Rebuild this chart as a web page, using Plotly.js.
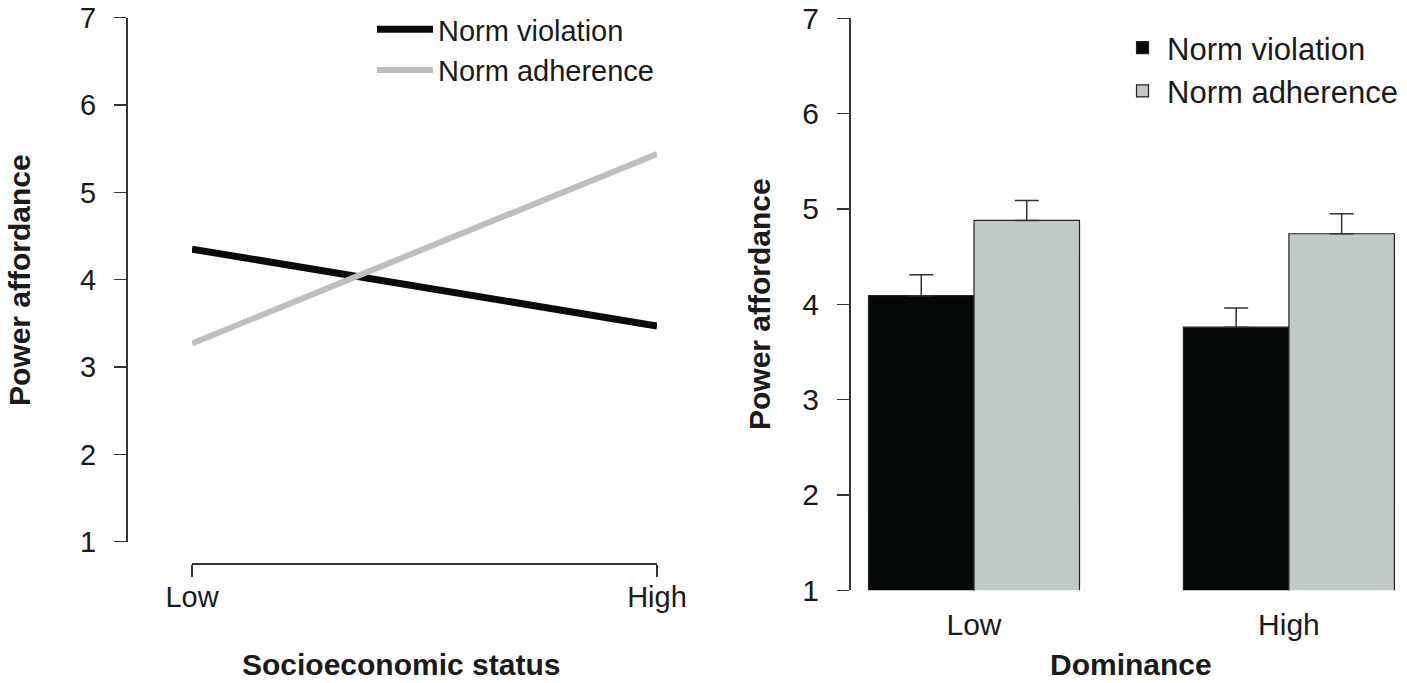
<!DOCTYPE html>
<html>
<head>
<meta charset="utf-8">
<script src="https://cdn.plot.ly/plotly-3.0.1.min.js"></script>
<style>
  html, body { margin: 0; padding: 0; background: #ffffff; }
  #chart { width: 1407px; height: 683px; }
</style>
</head>
<body>
<div id="chart"></div>
<script>
// Left panel: simple slopes by socioeconomic status
const sesLevels = ['Low', 'High']
const sesViolation = [4.35, 3.47]
const sesAdherence = [3.27, 5.44]

// Right panel: means (+ SE) by dominance
const domLevels = ['Low', 'High']
const domViolation = [4.09, 3.76]
const domAdherence = [4.88, 4.74]
const domViolationSE = [0.22, 0.20]
const domAdherenceSE = [0.21, 0.21]

const yTicks = [1, 2, 3, 4, 5, 6, 7]
const seriesNames = ['Norm violation', 'Norm adherence']

const W = 1407
const H = 683
const px = v => v / W          // pixel -> paper x
const py = v => 1 - v / H      // pixel -> paper y

const FONT = 'Liberation Sans, Arial, sans-serif'
const INK = '#1a1a1a'

const traces = [
  {
    x: sesLevels, y: sesViolation, name: seriesNames[0],
    type: 'scatter', mode: 'lines',
    line: { color: '#0a0a0a', width: 7 },
    xaxis: 'x', yaxis: 'y', legend: 'legend'
  },
  {
    x: sesLevels, y: sesAdherence, name: seriesNames[1],
    type: 'scatter', mode: 'lines',
    line: { color: '#bdbfbf', width: 6 },
    xaxis: 'x', yaxis: 'y', legend: 'legend'
  },
  {
    x: domLevels, y: domViolation, name: seriesNames[0],
    type: 'bar',
    marker: { color: '#050809', line: { color: '#222222', width: 1.2 } },
    error_y: { type: 'data', array: domViolationSE, arrayminus: [0, 0], symmetric: false,
               color: '#333333', thickness: 1.5, width: 12 },
    xaxis: 'x2', yaxis: 'y2', legend: 'legend2'
  },
  {
    x: domLevels, y: domAdherence, name: seriesNames[1],
    type: 'bar',
    marker: { color: '#c1c9c7', line: { color: '#222222', width: 1.2 } },
    error_y: { type: 'data', array: domAdherenceSE, arrayminus: [0, 0], symmetric: false,
               color: '#333333', thickness: 1.5, width: 12 },
    xaxis: 'x2', yaxis: 'y2', legend: 'legend2'
  }
]

const yAxisBase = {
  range: [1, 7],
  tickvals: yTicks,
  ticks: 'outside',
  ticklen: 12,
  tickwidth: 1.5,
  tickcolor: '#333333',
  showline: true,
  linecolor: '#333333',
  linewidth: 1.5,
  showgrid: false,
  zeroline: false,
  fixedrange: true
}

const layout = {
  width: W,
  height: H,
  margin: { l: 0, r: 0, t: 0, b: 0 },
  paper_bgcolor: '#ffffff',
  plot_bgcolor: 'rgba(0,0,0,0)',
  font: { family: FONT, color: INK, size: 29 },
  showlegend: true,
  barmode: 'group',
  bargap: 0.33,
  bargroupgap: 0,

  xaxis: {
    domain: [px(192), px(657)],
    type: 'category',
    range: [0, 1],
    anchor: 'free',
    position: py(563),
    ticks: 'outside',
    ticklen: 12,
    tickwidth: 1.5,
    tickcolor: '#333333',
    showline: true,
    linecolor: '#333333',
    linewidth: 1.5,
    showgrid: false,
    zeroline: false,
    tickfont: { size: 29 },
    ticklabelstandoff: -4
  },
  yaxis: Object.assign({}, yAxisBase, {
    domain: [py(541.7), py(17.7)],
    anchor: 'free',
    position: px(126),
    tickfont: { size: 29 },
    ticklabelstandoff: 12
  }),

  xaxis2: {
    domain: [px(849), 1],
    type: 'category',
    range: [-0.397, 1.375],
    anchor: 'y2',
    ticks: '',
    showline: false,
    showgrid: false,
    zeroline: false,
    tickfont: { size: 30 },
    ticklabelstandoff: 14
  },
  yaxis2: Object.assign({}, yAxisBase, {
    domain: [py(590.3), py(18.3)],
    anchor: 'free',
    position: px(849),
    tickfont: { size: 30 },
    ticklabelstandoff: 12
  }),

  legend: {
    x: px(372), xanchor: 'left',
    y: py(4), yanchor: 'top',
    bgcolor: 'rgba(0,0,0,0)',
    font: { size: 29, family: FONT, color: INK },
    itemwidth: 56,
    tracegroupgap: 0
  },
  legend2: {
    x: px(1118), xanchor: 'left',
    y: py(21), yanchor: 'top',
    bgcolor: 'rgba(0,0,0,0)',
    font: { size: 31, family: FONT, color: INK },
    itemwidth: 39,
    tracegroupgap: 0
  },

  annotations: [
    {
      text: '<b>Power affordance</b>', xref: 'paper', yref: 'paper',
      x: px(19), y: py(280), xanchor: 'center', yanchor: 'middle',
      textangle: -90, showarrow: false, font: { size: 30, family: FONT, color: INK }
    },
    {
      text: '<b>Socioeconomic status</b>', xref: 'paper', yref: 'paper',
      x: px(401), y: 0, xanchor: 'center', yanchor: 'bottom',
      showarrow: false, font: { size: 30, family: FONT, color: INK }
    },
    {
      text: '<b>Power affordance</b>', xref: 'paper', yref: 'paper',
      x: px(759), y: py(304), xanchor: 'center', yanchor: 'middle',
      textangle: -90, showarrow: false, font: { size: 30, family: FONT, color: INK }
    },
    {
      text: '<b>Dominance</b>', xref: 'paper', yref: 'paper',
      x: px(1131), y: 0, xanchor: 'center', yanchor: 'bottom',
      showarrow: false, font: { size: 30, family: FONT, color: INK }
    }
  ]
}

const config = {
  displaylogo: false,
  displayModeBar: false,
  staticPlot: true
}

Plotly.newPlot('chart', traces, layout, config)
</script>
</body>
</html>
